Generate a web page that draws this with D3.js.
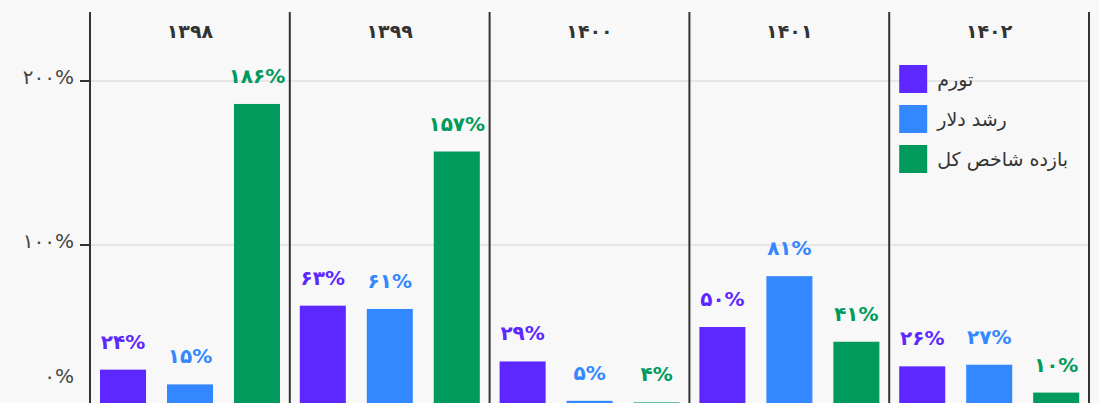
<!DOCTYPE html>
<html><head><meta charset="utf-8">
<script src="https://cdn.jsdelivr.net/npm/d3@7/dist/d3.min.js"></script>
<style>
html,body{margin:0;padding:0;background:#f8f8f8;}
svg{display:block;font-family:"DejaVu Sans",sans-serif;}
</style></head>
<body><svg id="c" width="1099" height="403"></svg>
<script>
const years = ["۱۳۹۸","۱۳۹۹","۱۴۰۰","۱۴۰۱","۱۴۰۲"];
const seriesNames = ["تورم","رشد دلار","بازده شاخص کل"];
const inflation = [24, 63, 29, 50, 26];
const dollarGrowth = [15, 61, 5, 81, 27];
const indexReturn = [186, 157, 4, 41, 10];
const yTicks = [0, 100, 200];
const colors = ["#5c28ff", "#3388ff", "#009a5d"];

const toFa = n => String(n).replace(/\d/g, d => "۰۱۲۳۴۵۶۷۸۹"[d]);
const series = [inflation, dollarGrowth, indexReturn];

const svg = d3.select("#c");
const W = 1099, H = 403;
const x0 = d3.scaleBand().domain(years).range([90, 1089]).padding(0);
const x1 = d3.scaleBand().domain([0,1,2]).range([10, 190]).paddingInner(0.313).paddingOuter(0);
const y = d3.scaleLinear().domain([0, 200]).range([409, 81]);

// gridlines
svg.append("g").selectAll("line").data(yTicks).join("line")
  .attr("x1", 90).attr("x2", 1089)
  .attr("y1", d => y(d)).attr("y2", d => y(d))
  .attr("stroke", "#e6e6e6").attr("stroke-width", 2);

// y axis ticks & labels
const ya = svg.append("g");
ya.selectAll("line").data(yTicks).join("line")
  .attr("x1", 80).attr("x2", 90).attr("y1", d => y(d)).attr("y2", d => y(d))
  .attr("stroke", "#333").attr("stroke-width", 2);
ya.selectAll("text").data(yTicks).join("text")
  .attr("x", 74).attr("y", d => Math.min(y(d), H - 23) - 3)
  .attr("dy", "0.32em").attr("text-anchor", "end")
  .attr("font-size", 20).attr("fill", "#444")
  .text(d => toFa(d) + "%");

// bars
years.forEach((yr, i) => {
  const g = svg.append("g").attr("transform", `translate(${x0(yr)},0)`);
  const data = series.map((s, k) => ({k, v: s[i]}));
  g.selectAll("rect").data(data).join("rect")
    .attr("x", d => x1(d.k)).attr("width", x1.bandwidth())
    .attr("y", d => y(d.v)).attr("height", d => y(0) - y(d.v))
    .attr("fill", d => colors[d.k]);
  g.selectAll("text.v").data(data).join("text").attr("class", "v")
    .attr("x", d => x1(d.k) + x1.bandwidth() / 2)
    .attr("y", d => y(d.v) - 21)
    .attr("text-anchor", "middle").attr("font-size", 20).attr("font-weight", "bold")
    .attr("fill", d => colors[d.k])
    .text(d => toFa(d.v) + "%");
  g.append("text")
    .attr("x", x0.bandwidth() / 2).attr("y", 31).attr("dy", "0.35em")
    .attr("text-anchor", "middle").attr("font-size", 19).attr("font-weight", "bold")
    .attr("fill", "#333").text(yr);
});

// panel separators
const seps = years.map(d => x0(d)).concat([x0.range()[1]]);
svg.append("g").selectAll("line").data(seps).join("line")
  .attr("x1", d => d).attr("x2", d => d).attr("y1", 12).attr("y2", H)
  .attr("stroke", "#333").attr("stroke-width", 2);

// legend
const lg = svg.append("g").attr("transform", `translate(${x0(years[4]) + 10},65)`);
const li = lg.selectAll("g").data(seriesNames).join("g")
  .attr("transform", (d, i) => `translate(0,${i * 40})`);
li.append("rect").attr("width", 28).attr("height", 28).attr("fill", (d, i) => colors[i]);
li.append("text").attr("x", 38).attr("y", 14).attr("dy", "0.35em")
  .attr("font-size", 19).attr("fill", "#333").attr("direction", "rtl")
  .attr("text-anchor", "end").text(d => d);
</script></body></html>
